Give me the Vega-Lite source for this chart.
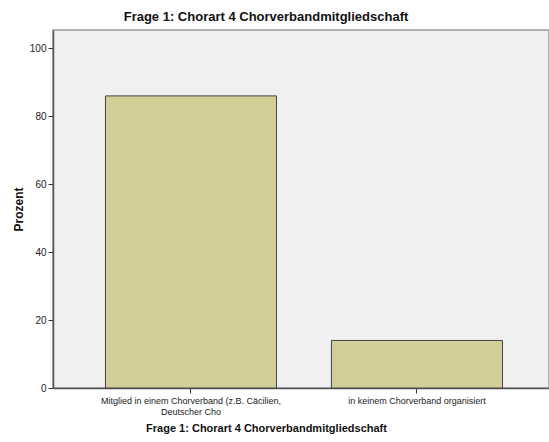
{
  "$schema": "https://vega.github.io/schema/vega-lite/v6.json",
  "autosize": {"type": "none"},
  "padding": {"left": 53, "top": 30, "right": 0, "bottom": 54},
  "width": 496,
  "height": 358,
  "background": "white",
  "title": {
    "text": "Frage 1: Chorart 4 Chorverbandmitgliedschaft",
    "font": "Liberation Sans",
    "fontSize": 13,
    "fontWeight": "bold",
    "color": "#111",
    "anchor": "middle",
    "dx": -35,
    "offset": 6
  },
  "config": {
    "view": {"fill": "#f0f0f0", "stroke": "#9a9a9a", "strokeWidth": 1.5},
    "axis": {
      "labelFont": "Liberation Sans",
      "titleFont": "Liberation Sans",
      "labelColor": "#222",
      "titleColor": "#111",
      "domainColor": "#555",
      "domainWidth": 1.5,
      "tickColor": "#333",
      "grid": false
    }
  },
  "data": {
    "values": [
      {"kategorie": "Mitglied in einem Chorverband (z.B. Cäcilien, Deutscher Cho", "prozent": 86},
      {"kategorie": "in keinem Chorverband organisiert", "prozent": 14}
    ]
  },
  "mark": {"type": "bar", "fill": "#d3ce97", "stroke": "#444", "strokeWidth": 1},
  "encoding": {
    "x": {
      "field": "kategorie",
      "type": "nominal",
      "sort": null,
      "scale": {"paddingInner": 0.243, "paddingOuter": 0.219, "align": 0.53},
      "axis": {
        "title": "Frage 1: Chorart 4 Chorverbandmitgliedschaft",
        "titleFontSize": 11,
        "titleFontWeight": "bold",
        "titleX": 213,
        "titleY": 40,
        "titleBaseline": "middle",
        "titleAnchor": null,
        "labelAngle": 0,
        "labelFontSize": 9,
        "labelLineHeight": 11,
        "labelPadding": 3,
        "labelLimit": 0,
        "tickSize": 5,
        "labelExpr": "datum.value == 'Mitglied in einem Chorverband (z.B. Cäcilien, Deutscher Cho' ? ['Mitglied in einem Chorverband (z.B. Cäcilien,', 'Deutscher Cho'] : datum.value"
      }
    },
    "y": {
      "field": "prozent",
      "type": "quantitative",
      "scale": {"domain": [0, 105.4], "nice": false},
      "axis": {
        "title": "Prozent",
        "titleFontSize": 12,
        "titleFontWeight": "bold",
        "titleX": -35,
        "titleY": 179,
        "titleBaseline": "middle",
        "titleAngle": -90,
        "values": [0, 20, 40, 60, 80, 100],
        "labelFontSize": 10,
        "labelPadding": 2,
        "tickSize": 5
      }
    }
  }
}
